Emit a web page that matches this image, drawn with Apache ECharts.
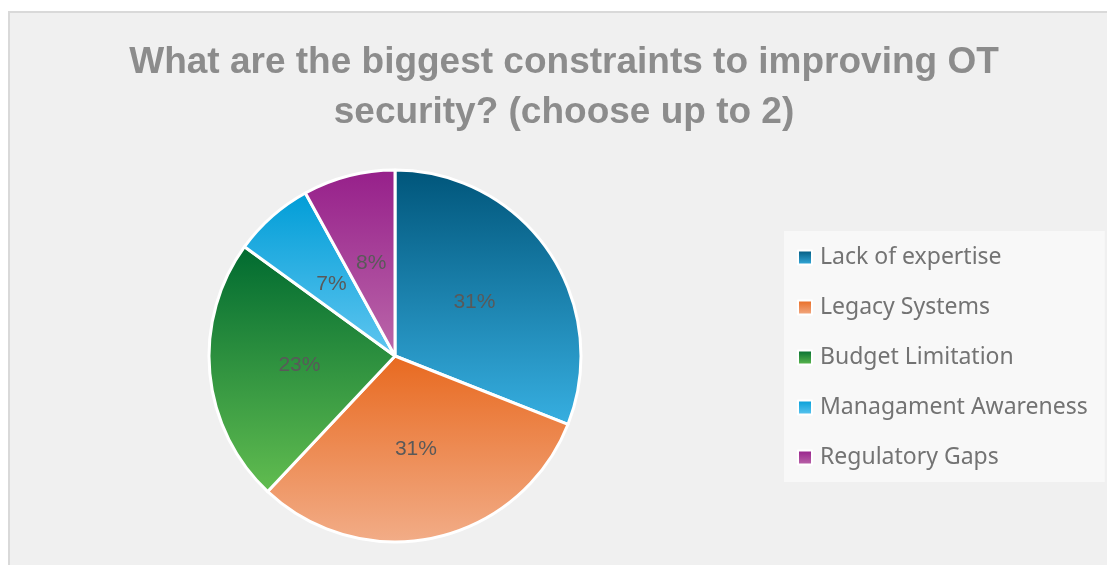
<!DOCTYPE html>
<html>
<head>
<meta charset="utf-8">
<script src="https://cdn.jsdelivr.net/npm/echarts@6/dist/echarts.min.js"></script>
<style>
html,body{margin:0;padding:0;background:#ffffff;}
#chart{width:1107px;height:565px;}
</style>
</head>
<body>
<div id="chart"></div>
<script>
const titleText = 'What are the biggest constraints to improving OT\nsecurity? (choose up to 2)';
const categories = ['Lack of expertise', 'Legacy Systems', 'Budget Limitation', 'Managament Awareness', 'Regulatory Gaps'];
const values = [31, 31, 23, 7, 8];
const topColors = ['#00557a', '#e8691f', '#006a30', '#009dd7', '#961f8a'];
const bottomColors = ['#37afe1', '#f2ad88', '#62bd50', '#60c6f0', '#bb68aa'];

const chart = echarts.init(document.getElementById('chart'), null, {renderer: 'canvas'});
const data = categories.map((name, i) => ({
  name: name,
  value: values[i],
  itemStyle: {
    color: new echarts.graphic.LinearGradient(0, 0, 0, 1, [
      {offset: 0, color: topColors[i]},
      {offset: 1, color: bottomColors[i]}
    ])
  }
}));

chart.setOption({
  backgroundColor: '#ffffff',
  animation: false,
  graphic: [{
    type: 'rect',
    shape: {x: 9, y: 12, width: 1120, height: 580},
    style: {fill: '#f0f0f0', stroke: '#d9d9d9', lineWidth: 2},
    z: -10
  }],
  title: {
    text: titleText,
    left: 559,
    top: 33,
    textAlign: 'center',
    textStyle: {
      fontFamily: 'Liberation Sans',
      fontSize: 37,
      fontWeight: 'bold',
      color: '#8c8c8c',
      lineHeight: 50
    }
  },
  legend: {
    orient: 'vertical',
    left: 784,
    top: 231,
    backgroundColor: '#f8f8f8',
    padding: [15, 17, 13, 13],
    itemWidth: 14,
    itemHeight: 14,
    itemGap: 27,
    icon: 'rect',
    itemStyle: {borderColor: '#ffffff', borderWidth: 2},
    textStyle: {
      fontFamily: 'Noto Sans',
      fontSize: 23,
      color: '#737373',
      padding: [0, 0, 0, 3]
    },
    data: categories
  },
  series: [{
    type: 'pie',
    center: [395, 356],
    radius: 186,
    startAngle: 90,
    clockwise: true,
    percentPrecision: 0,
    itemStyle: {borderColor: '#ffffff', borderWidth: 3},
    label: {
      show: true,
      position: 'inside',
      formatter: '{c}%',
      fontFamily: 'Liberation Sans',
      fontSize: 21,
      color: '#595959'
    },
    labelLine: {show: false},
    emphasis: {disabled: true},
    data: data
  }]
});
</script>
</body>
</html>
